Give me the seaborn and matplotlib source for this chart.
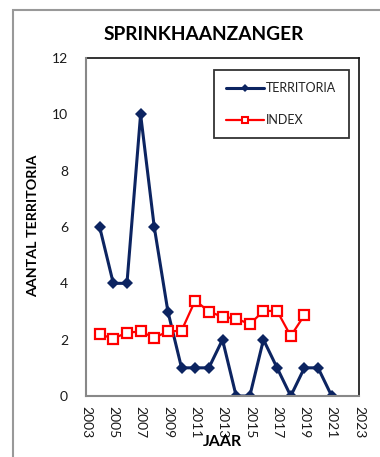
import matplotlib
matplotlib.use("Agg")
import matplotlib.pyplot as plt
import seaborn as sns
import pandas as pd
from matplotlib.patches import Rectangle

years_terr = [2004, 2005, 2006, 2007, 2008, 2009, 2010, 2011, 2012, 2013,
              2014, 2015, 2016, 2017, 2018, 2019, 2020, 2021]
territoria = [6, 4, 4, 10, 6, 3, 1, 1, 1, 2, 0, 0, 2, 1, 0, 1, 1, 0]

years_index = [2004, 2005, 2006, 2007, 2008, 2009, 2010, 2011, 2012, 2013,
               2014, 2015, 2016, 2017, 2018, 2019]
index_vals = [2.19, 2.04, 2.25, 2.29, 2.07, 2.29, 2.32, 3.39, 3.0, 2.81,
              2.75, 2.55, 3.02, 3.02, 2.13, 2.87]

x_ticks = list(range(2003, 2024, 2))
y_ticks = list(range(0, 13, 2))

title = "SPRINKHAANZANGER"
xlabel = "JAAR"
ylabel = "AANTAL TERRITORIA"

sns.set_theme(style="white")
plt.rcParams["font.family"] = ["Lato", "DejaVu Sans"]

W, H = 380, 457
fig = plt.figure(figsize=(W / 100, H / 100), dpi=100)
fig.patch.set_facecolor("white")
ax = fig.add_axes([86 / W, 1 - 396 / H, (359 - 86) / W, (396 - 58) / H])

navy = "#0c2461"
red = "#ff0000"

df_t = pd.DataFrame({"jaar": years_terr, "waarde": territoria})
df_i = pd.DataFrame({"jaar": years_index, "waarde": index_vals})

sns.lineplot(data=df_t, x="jaar", y="waarde", ax=ax, color=navy, linewidth=2.2,
             marker="D", markersize=6.6, markerfacecolor=navy,
             markeredgecolor=navy, markeredgewidth=0, label="TERRITORIA",
             zorder=3)
sns.lineplot(data=df_i, x="jaar", y="waarde", ax=ax, color=red, linewidth=1.6,
             marker="s", markersize=7.6, markerfacecolor="white",
             markeredgecolor=red, markeredgewidth=1.6, label="INDEX",
             zorder=4)

ax.set_xlim(2003, 2023)
ax.set_ylim(0, 12)
ax.set_xticks(x_ticks)
ax.set_yticks(y_ticks)
ax.set_xticklabels([str(t) for t in x_ticks], rotation=-90, fontsize=10,
                   color="#1a1a1a")
ax.set_yticklabels([str(t) for t in y_ticks], fontsize=10, color="#1a1a1a")
ax.set_xlabel("")
ax.set_ylabel("")
ax.tick_params(axis="both", which="major", direction="out", length=4,
               width=1, color="#888888")
ax.tick_params(axis="y", pad=9)
ax.tick_params(axis="x", pad=3)
for lab in ax.get_xticklabels():
    lab.set_verticalalignment("top")
    lab.set_horizontalalignment("center")

for side in ["left", "bottom"]:
    ax.spines[side].set_color("#888888")
    ax.spines[side].set_linewidth(1.5)
for side in ["top", "right"]:
    ax.spines[side].set_color("#111111")
    ax.spines[side].set_linewidth(1.2)
ax.spines["left"].set_zorder(5)
ax.spines["bottom"].set_zorder(5)

leg = ax.legend(loc="upper right", bbox_to_anchor=(349 / W, 1 - 70 / H),
                bbox_transform=fig.transFigure, frameon=True, fancybox=False,
                edgecolor="black", fontsize=9, handlelength=3.0,
                handletextpad=0.2, labelspacing=1.55, borderpad=1.0,
                borderaxespad=0)
leg.get_frame().set_linewidth(1.3)
for h in leg.legend_handles:
    if h.get_marker() == "D":
        h.set_markersize(4)
    else:
        h.set_markersize(5)
        h.set_markeredgewidth(1.5)
for t in leg.get_texts():
    t.set_color("#222222")

fig.text(204 / W, 1 - 35 / H, title, ha="center", va="center",
         fontsize=13.8, fontweight="bold", color="black")
fig.text(33 / W, 1 - 226 / H, ylabel, ha="center", va="center",
         rotation=90, fontsize=10.3, fontweight="bold", color="black")
fig.text(222 / W, 1 - 442 / H, xlabel, ha="center", va="center",
         fontsize=11.5, fontweight="bold", color="black")

fig.add_artist(Rectangle((13 / W, -0.1), 2.0, (1 - 10 / H) + 0.1,
                         transform=fig.transFigure, fill=False,
                         edgecolor="#999999", linewidth=1.5))

fig.savefig("out.png", dpi=100)
